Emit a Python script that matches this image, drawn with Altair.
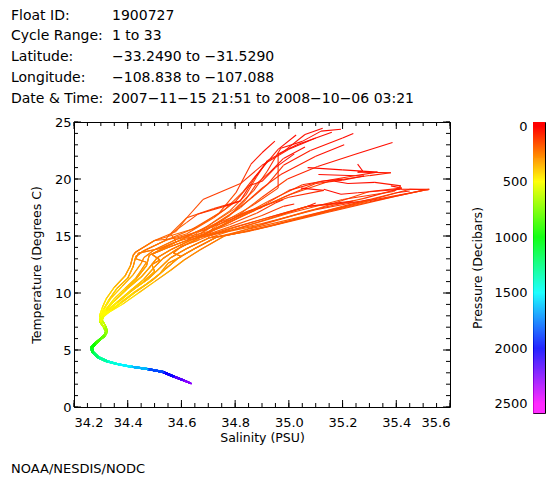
import altair as alt
import numpy as np
import pandas as pd

# ---------------- text ----------------
header_labels = ["Float ID:", "Cycle Range:", "Latitude:", "Longitude:", "Date & Time:"]
header_values = ["1900727", "1 to 33", "\u221233.2490 to \u221231.5290",
                 "\u2212108.838 to \u2212107.088",
                 "2007\u221211\u221215 21:51 to 2008\u221210\u221206 03:21"]
footer_label = "NOAA/NESDIS/NODC"
x_title = "Salinity (PSU)"
y_title = "Temperature (Degrees C)"
cbar_title = "Pressure (Decibars)"

# ---------------- ticks ----------------
salinity_ticks = [34.2, 34.4, 34.6, 34.8, 35.0, 35.2, 35.4, 35.6]
salinity_minor = [round(34.2 + 0.05 * i, 2) for i in range(29)]
temperature_ticks = [0, 5, 10, 15, 20, 25]
temperature_minor = list(range(26))
pressure_ticks = [0, 500, 1000, 1500, 2000, 2500]
pressure_stops = [0, 500, 1000, 1500, 2000, 2500]
pressure_colors = ["#ff0000", "#ffff00", "#00ff00", "#00ffff", "#0000ff", "#ff00ff"]

# ---------------- profiles: (salinity, temperature, pressure) ----------------
# upper parts (surface -> top of thermocline)
w1 = [(35.52, 19.1, 5), (35.40, 18.5, 90), (35.15, 17.1, 140), (34.92, 15.8, 175), (34.86, 15.5, 190)]
w2 = [(35.52, 19.05, 5), (35.45, 19.1, 40), (35.25, 17.8, 110), (35.00, 16.3, 160), (34.80, 15.2, 190)]
w3 = [(35.50, 19.0, 5), (35.30, 18.0, 100), (35.05, 16.6, 150), (34.85, 15.4, 185)]
w4 = [(35.45, 18.95, 5), (35.40, 18.8, 60), (35.20, 17.6, 120), (34.95, 16.0, 165), (34.84, 15.4, 185)]
w5 = [(35.42, 19.2, 5), (35.28, 18.3, 90), (35.07, 17.2, 140), (34.88, 15.9, 180)]
w6 = [(35.26, 18.0, 5), (35.07, 17.6, 80), (34.95, 16.7, 140), (34.80, 15.6, 180)]
w7 = [(35.30, 18.2, 5), (35.10, 17.3, 100), (34.90, 16.1, 150), (34.72, 15.2, 190)]
w8 = [(35.38, 19.4, 5), (35.42, 19.2, 40), (35.30, 18.9, 80), (35.12, 17.5, 130), (34.90, 16.0, 175)]
z1 = [(35.256, 21.3, 5), (35.275, 20.7, 20), (35.256, 20.6, 30), (35.38, 20.55, 40), (35.30, 20.3, 60),
      (35.15, 19.8, 90), (35.00, 18.6, 130), (34.85, 17.0, 160), (34.72, 15.5, 190)]
z2 = [(35.17, 19.8, 5), (35.22, 19.6, 20), (35.32, 19.7, 30), (35.417, 19.4, 45), (35.39, 18.9, 70),
      (35.20, 18.2, 100), (35.00, 17.0, 140), (34.80, 15.6, 180)]
z3 = [(35.13, 19.1, 5), (35.194, 18.66, 20), (35.256, 18.8, 35), (35.417, 19.1, 50), (35.523, 19.1, 60),
      (35.30, 18.1, 110), (35.05, 16.7, 150), (34.85, 15.6, 185)]
z4 = [(35.11, 20.4, 5), (35.28, 20.26, 25), (35.20, 19.9, 45), (35.10, 19.6, 70), (34.98, 18.4, 120),
      (34.85, 17.0, 160), (34.70, 15.4, 190)]
z5 = [(35.07, 21.0, 5), (35.20, 20.8, 20), (35.33, 20.6, 30), (35.25, 20.3, 45), (35.05, 19.5, 80),
      (34.92, 18.0, 130), (34.78, 16.2, 175)]
a1 = [(35.194, 24.36, 5), (35.12, 24.2, 15), (35.05, 23.3, 30), (34.97, 22.7, 45), (34.92, 20.7, 70),
      (34.87, 19.0, 110), (34.80, 17.4, 150), (34.70, 15.9, 185)]
a2 = [(35.126, 24.45, 5), (35.06, 23.9, 20), (34.98, 22.4, 40), (34.92, 21.6, 55), (34.88, 20.2, 80),
      (34.84, 18.6, 115), (34.78, 17.2, 150), (34.68, 15.6, 185)]
a3 = [(35.027, 23.86, 5), (34.96, 22.6, 25), (34.87, 20.1, 60), (34.83, 18.9, 100), (34.76, 17.3, 145),
      (34.66, 15.8, 185)]
a4 = [(34.948, 23.33, 5), (34.90, 22.3, 25), (34.859, 21.3, 45), (34.803, 18.8, 100), (34.74, 17.0, 145),
      (34.64, 15.6, 185)]
a5 = [(35.206, 23.0, 5), (35.10, 22.0, 30), (34.97, 20.4, 60), (34.90, 19.2, 100), (34.82, 17.5, 140),
      (34.72, 15.9, 185)]
a6 = [(35.386, 23.2, 5), (35.25, 22.2, 25), (35.107, 21.1, 45), (34.995, 20.0, 70), (34.90, 18.4, 115),
      (34.80, 16.6, 160), (34.70, 15.3, 195)]
a7 = [(35.16, 24.1, 5), (35.03, 23.0, 25), (34.96, 22.2, 40), (34.96, 19.2, 90), (34.86, 17.6, 140),
      (34.74, 16.0, 180)]
a8 = [(35.10, 23.6, 5), (35.00, 22.6, 25), (34.90, 21.2, 50), (34.82, 19.6, 85), (34.68, 18.2, 120),
      (34.62, 16.6, 150), (34.58, 15.4, 185)]
a9 = [(34.92, 21.6, 5), (34.87, 20.0, 30), (34.82, 18.1, 75), (34.72, 17.4, 110), (34.62, 16.6, 145),
      (34.56, 15.2, 185)]
a10 = [(35.06, 22.8, 5), (34.98, 21.8, 30), (34.93, 20.6, 55), (34.88, 19.6, 80), (34.84, 18.2, 110),
       (34.78, 16.8, 145), (34.70, 15.6, 180)]
a11 = [(35.02, 22.2, 5), (34.95, 21.0, 30), (34.90, 19.8, 60), (34.85, 19.4, 80), (34.80, 18.0, 110),
       (34.72, 16.6, 150), (34.62, 15.2, 190)]
a12 = [(35.24, 24.0, 5), (35.20, 23.6, 15), (35.08, 22.5, 35), (34.98, 21.2, 55), (34.92, 19.5, 90),
       (34.86, 18.3, 120), (34.78, 16.9, 155), (34.68, 15.4, 190)]
b1 = [(34.98, 18.2, 5), (34.95, 17.9, 60), (34.88, 17.0, 110), (34.78, 16.0, 150), (34.66, 15.0, 190)]
b2 = [(35.02, 17.8, 5), (34.98, 17.6, 70), (34.90, 16.8, 120), (34.78, 15.8, 160), (34.68, 15.0, 190)]
b3 = [(35.10, 17.9, 5), (35.07, 17.6, 60), (34.95, 16.8, 110), (34.82, 15.9, 155), (34.70, 15.0, 190)]
b4 = [(34.90, 17.5, 5), (34.85, 17.2, 70), (34.78, 16.4, 120), (34.68, 15.5, 160), (34.58, 14.8, 195)]
b5 = [(35.24, 18.07, 5), (35.07, 17.6, 60), (34.92, 16.6, 120), (34.80, 15.8, 160), (34.70, 15.1, 190)]
b6 = [(35.045, 19.2, 5), (35.13, 19.0, 30), (35.00, 18.4, 80), (34.85, 17.2, 130), (34.72, 16.0, 170),
      (34.62, 15.0, 195)]
b7 = [(34.82, 18.07, 5), (34.76, 17.6, 50), (34.66, 16.9, 100), (34.62, 16.2, 140), (34.55, 15.0, 185)]
b8 = [(35.20, 20.0, 5), (35.12, 19.8, 30), (35.00, 19.0, 80), (34.90, 17.6, 130), (34.78, 16.4, 165),
      (34.66, 15.3, 190)]

# thermocline parts (about 200 -> 500 dbar)
m1 = [(34.50, 14.6, 200), (34.43, 13.6, 232), (34.42, 13.3, 245), (34.41, 12.4, 275), (34.39, 11.5, 310),
      (34.35, 10.5, 352), (34.32, 9.5, 400), (34.305, 8.7, 445), (34.295, 8.0, 490)]
m2 = [(34.54, 14.6, 200), (34.46, 13.7, 230), (34.43, 13.2, 248), (34.42, 12.3, 280), (34.40, 11.3, 318),
      (34.36, 10.4, 357), (34.33, 9.4, 405), (34.31, 8.6, 450), (34.30, 8.0, 490)]
m3 = [(34.58, 14.7, 200), (34.50, 13.8, 230), (34.46, 13.1, 252), (34.45, 12.6, 270), (34.42, 11.6, 305),
      (34.38, 10.6, 350), (34.34, 9.6, 398), (34.315, 8.7, 447), (34.30, 7.9, 495)]
m4 = [(34.61, 14.8, 200), (34.53, 13.9, 228), (34.48, 13.3, 247), (34.47, 12.4, 280), (34.43, 11.2, 322),
      (34.39, 10.2, 367), (34.35, 9.3, 412), (34.32, 8.5, 458), (34.305, 8.0, 490)]
m5 = [(34.64, 14.7, 200), (34.56, 13.8, 232), (34.51, 13.1, 254), (34.48, 12.2, 287), (34.45, 11.4, 316),
      (34.40, 10.4, 360), (34.36, 9.5, 405), (34.32, 8.6, 452), (34.30, 8.0, 490)]
m6 = [(34.67, 14.9, 200), (34.58, 13.8, 235), (34.53, 13.0, 260), (34.50, 12.3, 284), (34.46, 11.2, 323),
      (34.41, 10.2, 368), (34.37, 9.4, 410), (34.33, 8.5, 458), (34.31, 7.9, 495)]
m7 = [(34.70, 14.8, 200), (34.62, 13.9, 233), (34.56, 13.1, 257), (34.52, 12.2, 290), (34.48, 11.3, 320),
      (34.42, 10.3, 364), (34.37, 9.3, 414), (34.33, 8.6, 454), (34.305, 8.0, 490)]
m8 = [(34.73, 14.9, 200), (34.65, 13.9, 235), (34.59, 13.1, 258), (34.54, 12.1, 293), (34.49, 11.1, 328),
      (34.43, 10.1, 372), (34.38, 9.2, 418), (34.34, 8.5, 458), (34.31, 8.0, 490)]
m9 = [(34.76, 15.0, 200), (34.67, 13.8, 238), (34.61, 12.9, 265), (34.56, 12.0, 297), (34.50, 11.0, 333),
      (34.44, 10.0, 377), (34.38, 9.0, 427), (34.33, 8.3, 470), (34.31, 7.9, 495)]
m10 = [(34.58, 14.5, 200), (34.52, 13.9, 220), (34.44, 13.5, 236), (34.43, 13.0, 252), (34.47, 12.7, 262),
       (34.45, 12.0, 290), (34.43, 11.3, 318), (34.39, 10.4, 360), (34.35, 9.5, 405), (34.32, 8.6, 455),
       (34.30, 8.0, 490)]
m11 = [(34.62, 14.6, 200), (34.55, 14.0, 222), (34.49, 13.4, 240), (34.52, 12.9, 258), (34.49, 12.5, 272),
       (34.50, 11.9, 295), (34.46, 11.0, 332), (34.41, 10.1, 372), (34.36, 9.2, 418), (34.32, 8.4, 465),
       (34.30, 7.9, 495)]
m12 = [(34.66, 14.6, 200), (34.60, 14.1, 218), (34.57, 13.5, 238), (34.60, 13.2, 248), (34.55, 12.6, 270),
       (34.52, 11.7, 306), (34.47, 10.8, 342), (34.42, 10.0, 377), (34.37, 9.1, 422), (34.33, 8.4, 465),
       (34.30, 8.0, 490)]

# deep parts (500 -> ~2250 dbar)
d1 = [(34.295, 7.5, 540), (34.31, 7.0, 610), (34.318, 6.6, 680), (34.312, 6.3, 740), (34.297, 6.0, 800),
      (34.277, 5.6, 880), (34.262, 5.2, 980), (34.267, 4.8, 1080), (34.287, 4.35, 1200), (34.318, 4.0, 1310),
      (34.357, 3.75, 1420), (34.408, 3.52, 1520), (34.468, 3.32, 1640), (34.528, 3.05, 1850),
      (34.568, 2.65, 2020), (34.603, 2.35, 2160), (34.633, 2.08, 2260)]
d2 = [(34.305, 7.6, 540), (34.318, 7.1, 610), (34.324, 6.7, 680), (34.318, 6.35, 740), (34.302, 6.05, 800),
      (34.283, 5.65, 880), (34.268, 5.25, 980), (34.272, 4.85, 1080), (34.292, 4.4, 1200), (34.324, 4.05, 1310),
      (34.363, 3.8, 1420), (34.414, 3.57, 1520), (34.474, 3.37, 1640), (34.534, 3.1, 1850),
      (34.574, 2.7, 2010), (34.607, 2.4, 2150), (34.63, 2.15, 2240)]
d3 = [(34.30, 7.4, 540), (34.314, 6.9, 610), (34.322, 6.5, 680), (34.315, 6.2, 740), (34.298, 5.9, 800),
      (34.28, 5.5, 880), (34.266, 5.1, 980), (34.271, 4.7, 1080), (34.293, 4.28, 1200), (34.327, 3.95, 1310),
      (34.368, 3.7, 1420), (34.418, 3.48, 1520), (34.478, 3.28, 1640), (34.538, 3.0, 1860),
      (34.576, 2.6, 2030), (34.609, 2.3, 2170), (34.637, 2.05, 2270)]

uppers = [w1, w2, w3, w4, w5, w6, w7, w8, z1, z2, z3, z4, z5, a1, a2, a3, a4, a5, a6, a7, a8, a9, a10,
          a11, a12, b1, b2, b3, b4, b5, b6, b7, b8]
mids = [m9, m8, m7, m8, m6, m5, m4, m9, m5, m7, m8, m3, m6, m4, m3, m2, m1, m7, m5, m6, m1, m10, m11,
        m2, m12, m10, m11, m12, m1, m8, m4, m2, m11]
deeps = [d1, d2, d3] * 11

rows = []
for cyc, (up, mid, deep) in enumerate(zip(uppers, mids, deeps), start=1):
    pts = up + mid + deep
    for a, b in zip(pts[:-1], pts[1:]):
        # each segment takes the colour of its deeper end
        rows.append({"cycle": cyc, "s1": a[0], "t1": a[1], "s2": b[0], "t2": b[1], "p": b[2]})
seg = pd.DataFrame(rows)

W, H = 376, 285
FONT = "DejaVu Sans"
xs = alt.Scale(domain=[34.2, 35.6], nice=False, zero=False)
ys = alt.Scale(domain=[0, 25], nice=False, zero=False)
cs = alt.Scale(domain=pressure_stops, range=pressure_colors, interpolate="rgb", clamp=True)

xaxis = alt.Axis(values=salinity_ticks, format=".1f", title=x_title, ticks=False, domain=False,
                 grid=False, labelPadding=9.5, titlePadding=2)
yaxis = alt.Axis(values=temperature_ticks, format="d", title=y_title, ticks=False, domain=False,
                 grid=False, labelPadding=3, titlePadding=11)

lines = alt.Chart(seg).mark_rule(strokeWidth=1.1).encode(
    x=alt.X("s1:Q", scale=xs, axis=xaxis),
    x2="s2:Q",
    y=alt.Y("t1:Q", scale=ys, axis=yaxis),
    y2="t2:Q",
    color=alt.Color("p:Q", scale=cs, legend=None),
)

xminor = pd.DataFrame({"v": salinity_minor})
xmajor = pd.DataFrame({"v": salinity_ticks})
yminor = pd.DataFrame({"v": temperature_minor})
ymajor = pd.DataFrame({"v": temperature_ticks})


def xtick(df, y0, y1):
    return alt.Chart(df).mark_rule(color="black", strokeWidth=1).encode(
        x=alt.X("v:Q", scale=xs, axis=xaxis), y=alt.value(y0), y2=alt.value(y1))


def ytick(df, x0, x1):
    return alt.Chart(df).mark_rule(color="black", strokeWidth=1).encode(
        y=alt.Y("v:Q", scale=ys, axis=yaxis), x=alt.value(x0), x2=alt.value(x1))


ticks = [
    xtick(xminor, H, H - 4), xtick(xmajor, H, H - 7),
    xtick(xminor, 0, 4), xtick(xmajor, 0, 7),
    ytick(yminor, 0, 4), ytick(ymajor, 0, 7),
    ytick(yminor, W, W - 4), ytick(ymajor, W, W - 7),
]


def label(txt, x, y, size):
    return alt.Chart(alt.Data(values=[{}])).mark_text(
        text=txt, align="left", baseline="alphabetic", font=FONT, fontSize=size, color="black"
    ).encode(x=alt.value(x), y=alt.value(y))


header_y = [-102.5, -82, -61.5, -40.5, -19.5]
texts = []
for lab, val, yy in zip(header_labels, header_values, header_y):
    texts.append(label(lab, -63, yy, 14))
    texts.append(label(val, 38, yy, 14))
texts.append(label(footer_label, -63, 351, 13))

main = alt.layer(lines, *ticks, *texts).properties(width=W, height=H)

pgrid = np.arange(-36, 2581, 9)
cb = pd.DataFrame({"p0": pgrid, "p1": pgrid + 9, "pm": pgrid + 4.5})
cbar = alt.Chart(cb).mark_rect().encode(
    y=alt.Y("p0:Q", scale=alt.Scale(domain=[-36, 2581], reverse=True, nice=False, zero=False),
            axis=alt.Axis(values=pressure_ticks, format="d", title=cbar_title, ticks=False,
                          domain=False, grid=False, labelPadding=6, titlePadding=9.5)),
    y2="p1:Q",
    color=alt.Color("pm:Q", scale=cs, legend=None),
).properties(width=12, height=291)

chart = alt.hconcat(main, cbar, spacing=83, bounds="flush",
                    padding={"left": 2, "top": 0, "right": 2, "bottom": 2},
                    background="white").configure_view(
    stroke="black", strokeWidth=1
).configure_axis(
    labelFont=FONT, titleFont=FONT, labelFontSize=13, titleFontSize=12.5,
    labelColor="black", titleColor="black", titleFontWeight="normal"
)

chart.save("out.html", embed_options={"renderer": "svg", "actions": False})
